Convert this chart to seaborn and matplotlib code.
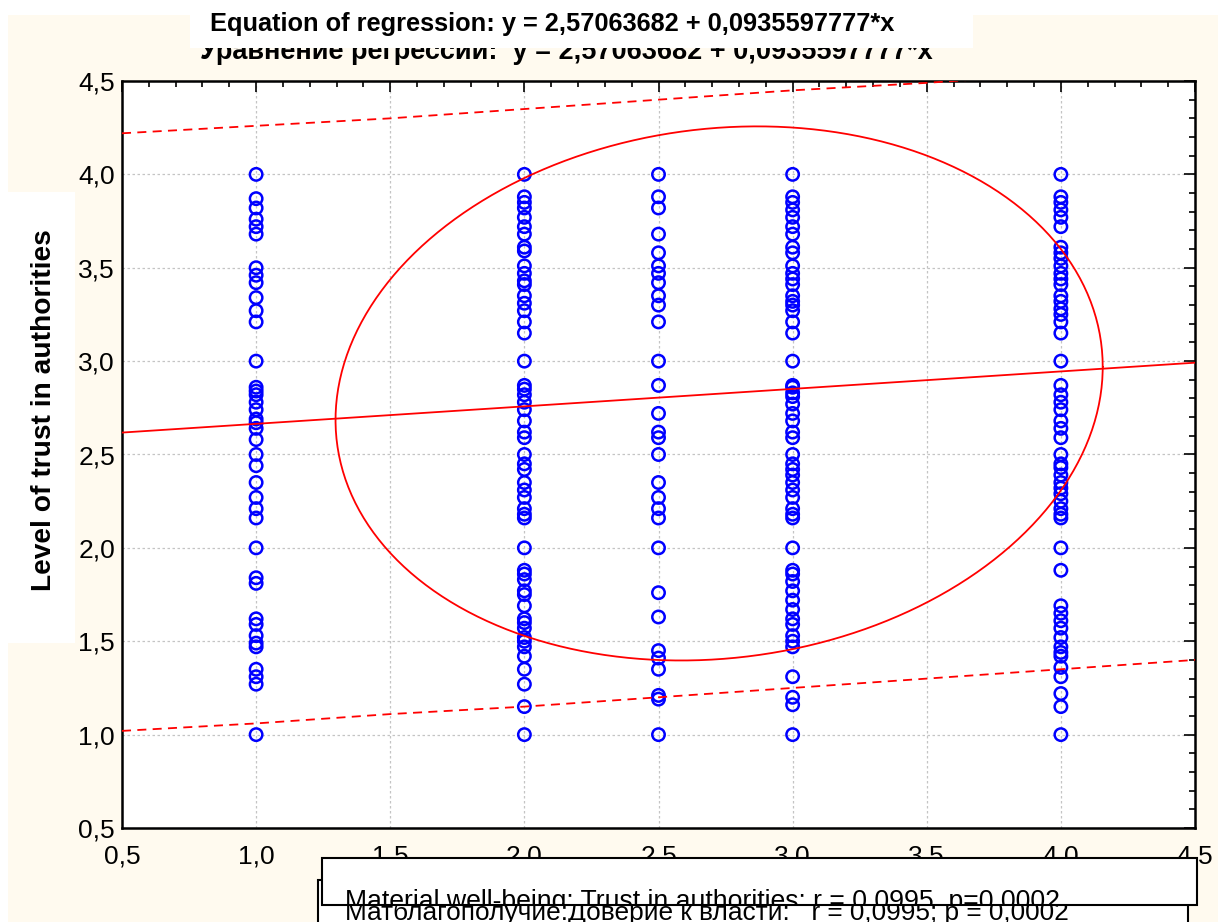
import numpy as np
import pandas as pd
import matplotlib
matplotlib.use("Agg")
import matplotlib.pyplot as plt
import seaborn as sns
from matplotlib.patches import Rectangle
from matplotlib.transforms import Bbox, TransformedBbox
from matplotlib.ticker import MultipleLocator, FuncFormatter

# ---------------- data ----------------
wellbeing_levels = [1.0, 2.0, 2.5, 3.0, 4.0]
trust_at_1_0 = [4.00, 3.87, 3.82, 3.76, 3.72, 3.68, 3.50, 3.46, 3.42, 3.34, 3.27, 3.21, 3.00,
                2.86, 2.84, 2.82, 2.78, 2.74, 2.69, 2.67, 2.64, 2.58, 2.50, 2.44, 2.35, 2.27,
                2.21, 2.16, 2.00, 1.84, 1.81, 1.62, 1.59, 1.53, 1.49, 1.47, 1.35, 1.31, 1.27, 1.00]
trust_at_2_0 = [4.00, 3.88, 3.85, 3.82, 3.77, 3.72, 3.68, 3.61, 3.59, 3.51, 3.47, 3.43, 3.41,
                3.35, 3.31, 3.27, 3.21, 3.15, 3.00, 2.87, 2.85, 2.82, 2.78, 2.74, 2.68, 2.62,
                2.59, 2.50, 2.45, 2.42, 2.35, 2.31, 2.27, 2.21, 2.18, 2.16, 2.00, 1.88, 1.86,
                1.83, 1.77, 1.75, 1.69, 1.62, 1.60, 1.57, 1.52, 1.50, 1.47, 1.42, 1.35, 1.27,
                1.15, 1.00]
trust_at_2_5 = [4.00, 3.88, 3.82, 3.68, 3.58, 3.51, 3.47, 3.42, 3.35, 3.30, 3.21, 3.00, 2.87,
                2.72, 2.62, 2.59, 2.50, 2.35, 2.27, 2.21, 2.16, 2.00, 1.76, 1.63, 1.45, 1.41,
                1.35, 1.21, 1.19, 1.00]
trust_at_3_0 = [4.00, 3.88, 3.85, 3.81, 3.77, 3.72, 3.68, 3.61, 3.58, 3.51, 3.47, 3.44, 3.41,
                3.35, 3.32, 3.30, 3.27, 3.21, 3.15, 3.00, 2.87, 2.86, 2.83, 2.81, 2.77, 2.72,
                2.68, 2.62, 2.59, 2.50, 2.45, 2.42, 2.39, 2.35, 2.31, 2.27, 2.21, 2.18, 2.16,
                2.00, 1.88, 1.86, 1.82, 1.77, 1.72, 1.67, 1.62, 1.59, 1.53, 1.50, 1.47, 1.31,
                1.20, 1.16, 1.00]
trust_at_4_0 = [4.00, 3.88, 3.85, 3.81, 3.77, 3.72, 3.61, 3.58, 3.55, 3.51, 3.47, 3.44, 3.41,
                3.35, 3.32, 3.28, 3.25, 3.21, 3.15, 3.00, 2.87, 2.82, 2.78, 2.74, 2.68, 2.64,
                2.59, 2.50, 2.45, 2.43, 2.39, 2.35, 2.32, 2.29, 2.25, 2.21, 2.18, 2.16, 2.00,
                1.88, 1.69, 1.65, 1.61, 1.57, 1.52, 1.47, 1.44, 1.42, 1.36, 1.31, 1.22, 1.15,
                1.00]

reg_intercept = 2.57063682
reg_slope = 0.0935597777

band_x = [0.5, 1.0, 1.5, 2.0, 2.5, 3.0, 3.5, 4.0, 4.5]
band_upper = [4.22, 4.26, 4.30, 4.35, 4.40, 4.45, 4.49, 4.54, 4.59]
band_lower = [1.02, 1.06, 1.11, 1.15, 1.20, 1.25, 1.30, 1.35, 1.40]

ellipse_center = (2.726, 2.827)
ellipse_halfwidth = (1.43, 1.43)
ellipse_r = 0.0995

x_ticks = [0.5, 1.0, 1.5, 2.0, 2.5, 3.0, 3.5, 4.0, 4.5]
y_ticks = [0.5, 1.0, 1.5, 2.0, 2.5, 3.0, 3.5, 4.0, 4.5]

title_en = "Equation of regression: y = 2,57063682 + 0,0935597777*x"
title_ru = "Уравнение регрессии:  y = 2,57063682 + 0,0935597777*x"
ylabel_en = "Level of trust in authorities"
bottom_en = "Material well-being: Trust in authorities: r = 0,0995, p=0,0002"
bottom_ru = "Матблагополучие:Доверие к власти:   r = 0,0995; p = 0,0002"

columns = [trust_at_1_0, trust_at_2_0, trust_at_2_5, trust_at_3_0, trust_at_4_0]
df = pd.concat([pd.DataFrame({"wellbeing": lvl, "trust": vals})
                for lvl, vals in zip(wellbeing_levels, columns)], ignore_index=True)

# ---------------- style ----------------
sns.set_style("white")
plt.rcParams["font.family"] = ["Liberation Sans", "DejaVu Sans"]
plt.rcParams["text.color"] = "black"
plt.rcParams["axes.labelcolor"] = "black"
plt.rcParams["xtick.color"] = "black"
plt.rcParams["ytick.color"] = "black"

W, H = 1218, 922
fig = plt.figure(figsize=(W / 100, H / 100), dpi=100)
fig.patch.set_facecolor("white")

def fx(px):
    return px / W

def fy(py):
    return 1 - py / H

# background panels
fig.add_artist(Rectangle((fx(8), 0), 1, fy(15), transform=fig.transFigure,
                         facecolor="#FFFAEF", edgecolor="none", zorder=-10))
fig.add_artist(Rectangle((fx(8), fy(643)), fx(75) - fx(8), fy(192) - fy(643),
                         transform=fig.transFigure, facecolor="white",
                         edgecolor="none", zorder=-5))

ax = fig.add_axes([fx(122), fy(828), fx(1195) - fx(122), fy(81) - fy(828)])
ax.set_facecolor("white")

# scatter
sns.scatterplot(data=df, x="wellbeing", y="trust", marker="o", s=80,
                facecolors="none", edgecolor="#0000FF", linewidth=1.8,
                ax=ax, zorder=3, legend=False)

# regression line
xl = np.array([x_ticks[0], x_ticks[-1]])
sns.lineplot(x=xl, y=reg_intercept + reg_slope * xl, color="#FF0000",
             linewidth=1.3, ax=ax, zorder=4)

# prediction bands
for band in (band_upper, band_lower):
    ax.plot(band_x, band, color="#FF0000", linewidth=1.3,
            linestyle=(0, (5, 3.5)), zorder=4)

# ellipse
t = np.linspace(0, 2 * np.pi, 400)
ex = ellipse_center[0] + ellipse_halfwidth[0] * np.cos(t)
ey = ellipse_center[1] + ellipse_halfwidth[1] * (ellipse_r * np.cos(t)
                                                 + np.sqrt(1 - ellipse_r ** 2) * np.sin(t))
ax.plot(ex, ey, color="#FF0000", linewidth=1.3, zorder=4)

# axes
ax.set_xlim(x_ticks[0], x_ticks[-1])
ax.set_ylim(y_ticks[0], y_ticks[-1])
ax.set_xticks(x_ticks)
ax.set_yticks(y_ticks)
ax.xaxis.set_minor_locator(MultipleLocator(0.1))
ax.yaxis.set_minor_locator(MultipleLocator(0.1))
fmt = FuncFormatter(lambda v, p: f"{v:.1f}".replace(".", ","))
ax.xaxis.set_major_formatter(fmt)
ax.yaxis.set_major_formatter(fmt)
ax.tick_params(which="both", direction="in", top=True, right=True,
               colors="black", labelcolor="black", width=1.2, labelsize=19)
ax.tick_params(which="major", length=8)
ax.tick_params(which="minor", length=4)
ax.tick_params(axis="x", pad=12)
ax.tick_params(axis="y", pad=5)
ax.set_xlabel("")
ax.set_ylabel("")
ax.grid(True, which="major", color="#c4c4c4", linestyle=(0, (2, 2)), linewidth=0.9)
ax.set_axisbelow(True)
for s in ax.spines.values():
    s.set_visible(True)
    s.set_color("black")
    s.set_linewidth(1.8)

renderer = fig.canvas.get_renderer()

def fit(txt, target, use_height=False):
    ext = txt.get_window_extent(renderer)
    cur = ext.height if use_height else ext.width
    txt.set_fontsize(txt.get_fontsize() * target / cur)

# titles
t_ru = fig.text(fx(200), fy(59), title_ru, fontsize=16, fontweight="bold",
                ha="left", va="baseline", zorder=1, color="black")
fit(t_ru, 733)
fig.add_artist(Rectangle((fx(190), fy(48)), fx(973) - fx(190), 1 - fy(48),
                         transform=fig.transFigure, facecolor="white",
                         edgecolor="none", zorder=2))
t_en = fig.text(fx(210), fy(31), title_en, fontsize=16, fontweight="bold",
                ha="left", va="baseline", zorder=3, color="black")
fit(t_en, 683)

# y label
yl = fig.text(fx(44), fy(410), ylabel_en, fontsize=16, fontweight="bold",
              rotation=90, ha="center", va="center", zorder=3, color="black")
fit(yl, 360, use_height=True)

# bottom boxes
fig.add_artist(Rectangle((fx(318), fy(930)), fx(1188) - fx(318), fy(880) - fy(930),
                         transform=fig.transFigure, facecolor="white",
                         edgecolor="black", linewidth=1.5, zorder=4))
b_ru = fig.text(fx(345), fy(920), bottom_ru, fontsize=16, ha="left",
                va="baseline", zorder=5, color="black")
fit(b_ru, 722)
fig.add_artist(Rectangle((fx(322), fy(905)), fx(1197) - fx(322), fy(858) - fy(905),
                         transform=fig.transFigure, facecolor="white",
                         edgecolor="black", linewidth=1.5, zorder=6))
b_en = fig.text(fx(345), fy(909), bottom_en, fontsize=16, ha="left",
                va="baseline", zorder=7, color="black")
fit(b_en, 717)
b_en.set_clip_box(TransformedBbox(Bbox([[fx(322), fy(904)], [fx(1197), fy(858)]]),
                                  fig.transFigure))
b_en.set_clip_on(True)

fig.savefig("out.png", dpi=100)
